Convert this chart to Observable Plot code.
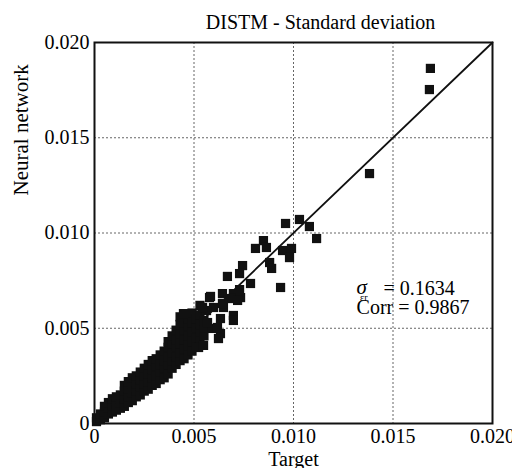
<!DOCTYPE html>
<html><head><meta charset="utf-8">
<script src="https://cdn.jsdelivr.net/npm/d3@7"></script>
<script src="https://cdn.jsdelivr.net/npm/@observablehq/plot@0.6"></script>
<style>body{margin:0;background:#fff}</style>
</head><body><div id="chart"></div>
<script>
// Dense band of points near the diagonal [target, network]
const bandPoints = [
  [0.0001,0.0001],[0.0001,0.0003],
  [0.0003,0.0002],[0.0003,0.0005],
  [0.0005,0.0003],[0.0005,0.0006],[0.0005,0.0009],
  [0.0007,0.0005],[0.0007,0.0008],[0.0007,0.0011],
  [0.0009,0.0006],[0.0009,0.0009],[0.0009,0.0013],
  [0.0011,0.0007],[0.0011,0.0010],[0.0011,0.0014],
  [0.0013,0.0008],[0.0013,0.0011],[0.0013,0.0015],
  [0.0015,0.0009],[0.0015,0.0013],[0.0015,0.0017],[0.0015,0.0020],
  [0.0017,0.0011],[0.0017,0.0014],[0.0017,0.0018],[0.0017,0.0022],
  [0.0019,0.0012],[0.0019,0.0016],[0.0019,0.0020],[0.0019,0.0024],
  [0.0021,0.0014],[0.0021,0.0017],[0.0021,0.0021],[0.0021,0.0025],
  [0.0023,0.0015],[0.0023,0.0019],[0.0023,0.0023],[0.0023,0.0027],
  [0.0025,0.0017],[0.0025,0.0021],[0.0025,0.0025],[0.0025,0.0029],
  [0.0027,0.0018],[0.0027,0.0022],[0.0027,0.0026],[0.0027,0.0031],
  [0.0029,0.0020],[0.0029,0.0024],[0.0029,0.0028],[0.0029,0.0033],
  [0.0031,0.0021],[0.0031,0.0025],[0.0031,0.0030],[0.0031,0.0034],
  [0.0033,0.0023],[0.0033,0.0027],[0.0033,0.0031],[0.0033,0.0036],
  [0.0035,0.0024],[0.0035,0.0029],[0.0035,0.0033],[0.0035,0.0038],
  [0.0037,0.0026],[0.0037,0.0031],[0.0037,0.0035],[0.0037,0.0040],[0.0037,0.0043],
  [0.0039,0.0029],[0.0039,0.0033],[0.0039,0.0037],[0.0039,0.0042],[0.0039,0.0046],
  [0.0041,0.0031],[0.0041,0.0035],[0.0041,0.0040],[0.0041,0.0044],[0.0041,0.0049],
  [0.0043,0.0033],[0.0043,0.0037],[0.0043,0.0042],[0.0043,0.0047],[0.0043,0.0052],[0.0043,0.0056],
  [0.0045,0.0034],[0.0045,0.0039],[0.0045,0.0044],[0.0045,0.0049],[0.0045,0.0053],
  [0.0047,0.0036],[0.0047,0.0041],[0.0047,0.0046],[0.0047,0.0051],[0.0047,0.0055],
  [0.0049,0.0038],[0.0049,0.0043],[0.0049,0.0048],[0.0049,0.0053],[0.0049,0.0058],
  [0.0051,0.0041],[0.0051,0.0045],[0.0051,0.0050],[0.0051,0.0055],
  [0.0053,0.0043],[0.0053,0.0048],[0.0053,0.0052],[0.0053,0.0057],[0.0053,0.0062],
  [0.0055,0.0046],[0.0055,0.0050],[0.0055,0.0054]
];
// Scattered points away from the band [target, network]
const spreadPoints = [
  [0.01688,0.01864],[0.01683,0.01753],[0.01382,0.01312],
  [0.0096,0.0105],[0.0103,0.01071],[0.0108,0.01034],[0.01116,0.00971],
  [0.00945,0.00908],[0.0099,0.00919],[0.0098,0.00871],[0.00935,0.00714],
  [0.00849,0.0096],[0.00809,0.00919],[0.00864,0.00924],[0.0088,0.00845],[0.0089,0.00814],
  [0.00744,0.00829],[0.00729,0.00787],[0.00668,0.00772],[0.00784,0.00735],
  [0.00729,0.00703],[0.00698,0.00682],[0.00643,0.00682],[0.00578,0.00661],
  [0.00683,0.00656],[0.00734,0.00661],[0.00598,0.00609],[0.00648,0.00609],
  [0.00698,0.00567],[0.00563,0.00593],[0.00633,0.00551],[0.00593,0.00499],
  [0.00633,0.00472],[0.00623,0.00446],[0.00523,0.00399],[0.00548,0.0041],
  [0.00719,0.00646],[0.00618,0.00504],[0.00583,0.00667],[0.00643,0.0063],
  [0.00543,0.00609],[0.00447,0.00577],[0.00698,0.00541],[0.00568,0.0053]
];
const axisTicks = [0, 0.005, 0.010, 0.015, 0.020];
const gridTicks = [0.005, 0.010, 0.015];
const diagonal = [0, 0.02];
const titleText = "DISTM - Standard deviation";
const xLabel = "Target";
const yLabel = "Neural network";
const sigmaValue = "= 0.1634";
const corrText = "Corr = 0.9867";

const allPoints = bandPoints.concat(spreadPoints);
const fmt = d => d === 0 ? "0" : d.toFixed(3);

const chart = Plot.plot({
  width: 512, height: 468,
  marginLeft: 94, marginRight: 20, marginTop: 42, marginBottom: 45,
  style: {fontFamily: "Liberation Serif", fontSize: "20px"},
  x: {domain: [0, 0.02]},
  y: {domain: [0, 0.02]},
  marks: [
    Plot.gridX(gridTicks, {stroke: "#666", strokeOpacity: 1, strokeDasharray: "2,2", strokeWidth: 1}),
    Plot.gridY(gridTicks, {stroke: "#666", strokeOpacity: 1, strokeDasharray: "2,2", strokeWidth: 1}),
    Plot.line(diagonal, {x: d => d, y: d => d, stroke: "#111", strokeWidth: 1.8}),
    Plot.dot(allPoints, {x: d => d[0], y: d => d[1], symbol: "square", r: 5.2, fill: "#111", stroke: null}),
    Plot.frame({stroke: "#111", strokeWidth: 2}),
    Plot.axisX(axisTicks, {tickSize: 0, tickPadding: 5, tickFormat: fmt, label: null, fontSize: 20}),
    Plot.axisY(axisTicks, {tickSize: 0, tickPadding: 5, tickFormat: fmt, label: null, fontSize: 20}),
    Plot.text([xLabel], {frameAnchor: "bottom", dy: 42, lineAnchor: "bottom", fontSize: 20}),
    Plot.text([yLabel], {frameAnchor: "left", y: 0.01197, dx: -73, rotate: -90, lineAnchor: "middle", fontSize: 21}),
    Plot.text([titleText], {frameAnchor: "top", x: 0.01136, dy: -14, lineAnchor: "bottom", fontSize: 20}),
    Plot.text(["σ"], {x: 0.01317, y: 0.00672, dy: -1, textAnchor: "start", lineAnchor: "bottom", fontStyle: "italic", fontSize: 21}),
    Plot.text(["εr"], {x: 0.01334, y: 0.00672, dy: 6, textAnchor: "start", lineAnchor: "bottom", fontSize: 10}),
    Plot.text([sigmaValue], {x: 0.01452, y: 0.00672, textAnchor: "start", lineAnchor: "bottom", fontSize: 20}),
    Plot.text([corrText], {x: 0.01317, y: 0.00577, textAnchor: "start", lineAnchor: "bottom", fontSize: 20})
  ]
});
chart.querySelectorAll("text").forEach(t => { t.style.fontFamily = "Liberation Serif"; });
document.getElementById("chart").appendChild(chart);
</script>
</body></html>
